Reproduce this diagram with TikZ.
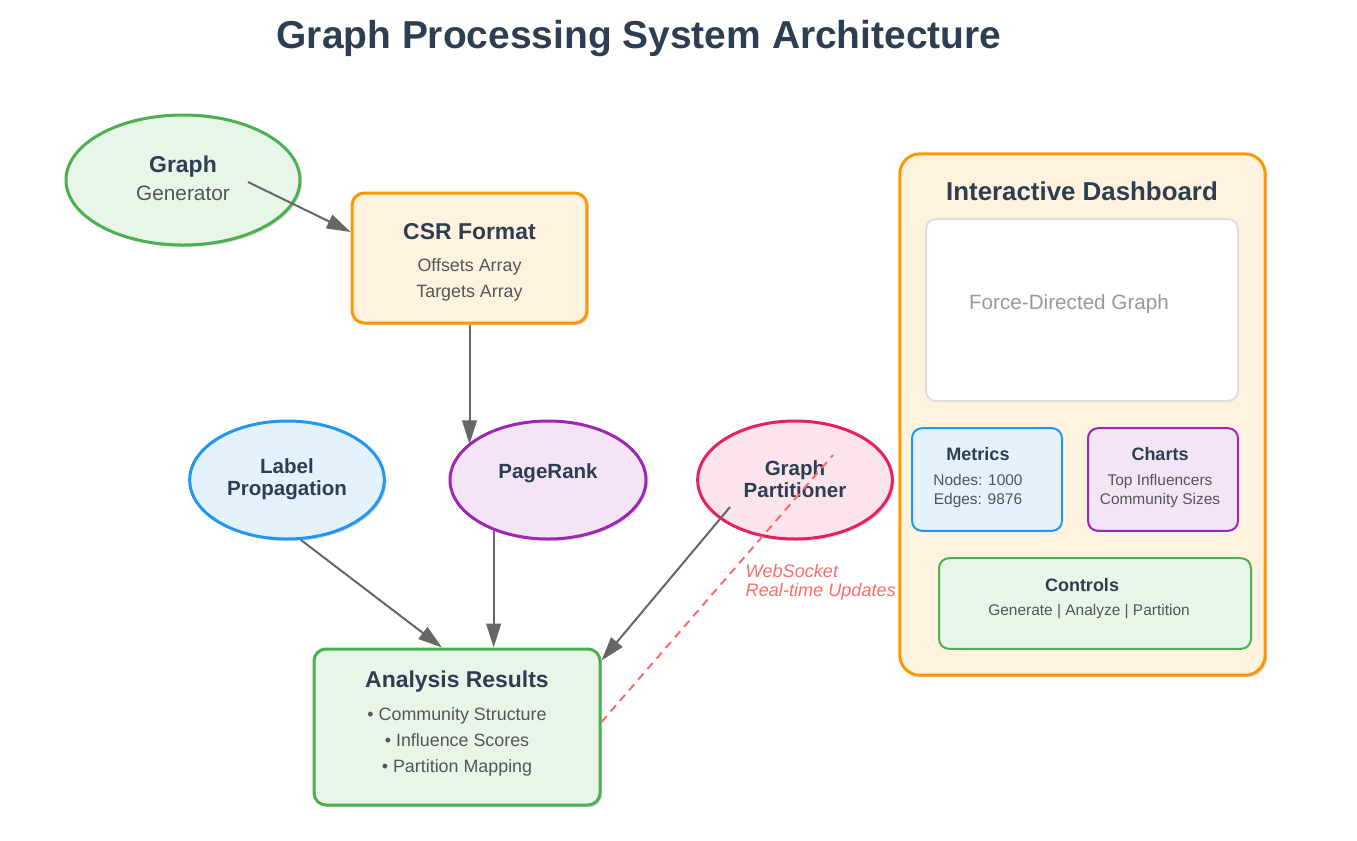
\documentclass[tikz,border=0pt]{standalone}
\usepackage{fontspec}
\setmainfont{Liberation Sans}
\usepackage{tikz}
\usetikzlibrary{shapes, arrows.meta, calc, shadows}

\definecolor{titlecol}{HTML}{2C3E50}
\definecolor{subgray}{HTML}{555555}
\definecolor{arrowgray}{HTML}{666666}
\definecolor{wsred}{HTML}{FF6B6B}
\definecolor{greenline}{HTML}{4CAF50}
\definecolor{greenfill}{HTML}{E8F5E9}
\definecolor{orangeline}{HTML}{FF9800}
\definecolor{orangefill}{HTML}{FFF3E0}
\definecolor{blueline}{HTML}{2196F3}
\definecolor{bluefill}{HTML}{E3F2FD}
\definecolor{purpleline}{HTML}{9C27B0}
\definecolor{purplefill}{HTML}{F3E5F5}
\definecolor{pinkline}{HTML}{E91E63}
\definecolor{pinkfill}{HTML}{FCE4EC}
\definecolor{paneline}{HTML}{DDDDDD}

\begin{document}
\begin{tikzpicture}[x=0.75pt, y=-0.75pt,
	softshadow/.style={drop shadow={shadow xshift=1.5pt, shadow yshift=-1.5pt, opacity=0.15, fill=black}},
	ell/.style={ellipse, draw, line width=2.25pt, inner sep=0pt, softshadow},
	box/.style={rectangle, draw, line width=2.25pt, rounded corners=9pt, inner sep=0pt, softshadow},
	panel/.style={rectangle, draw, line width=1.5pt, rounded corners=7.5pt, inner sep=0pt},
	flow/.style={draw=arrowgray, line width=1.5pt, -{Triangle[length=18pt, width=11pt]}},
	wsline/.style={draw=wsred, line width=1.5pt, dash pattern=on 6pt off 4.5pt},
	head/.style={text=titlecol, font=\fontsize{17.2pt}{20pt}\selectfont\bfseries},
	headsmall/.style={text=titlecol, font=\fontsize{15.4pt}{16.5pt}\selectfont\bfseries, align=center},
	subtext/.style={text=subgray, font=\fontsize{13.4pt}{15pt}\selectfont, text height=0.75em, text depth=0.22em},
	paneltitle/.style={text=titlecol, font=\fontsize{13.5pt}{15pt}\selectfont\bfseries},
	tinytext/.style={text=subgray, font=\fontsize{11.6pt}{14.25pt}\selectfont, align=center}]
		\useasboundingbox (0,0) rectangle (1357,840);
		% title
		\node[text=titlecol, font=\fontsize{29.2pt}{34pt}\selectfont\bfseries] (title) at (639,39) {Graph Processing System Architecture};
		% generator and csr
		\node[ell, draw=greenline, fill=greenfill, minimum width=175.5pt, minimum height=97.5pt] (gen) at (183,180) {};
		\node[head] (genT) at (183,167) {Graph};
		\node[text=subgray, font=\fontsize{15.6pt}{18pt}\selectfont] (genS) at (183,193) {Generator};
		\node[box, draw=orangeline, fill=orangefill, minimum width=176pt, minimum height=97.5pt] (csr) at (469.5,258) {};
		\node[head] (csrT) at (469.5,232) {CSR Format};
		\node[subtext] (csrA) at (469.5,268) {Offsets Array};
		\node[subtext] (csrB) at (469.5,294) {Targets Array};
		% algorithms
		\node[ell, draw=blueline, fill=bluefill, minimum width=146pt, minimum height=88.5pt] (lp) at (287,480) {};
		\node[headsmall] (lpT) at (287,479) {Label\\Propagation};
		\node[ell, draw=purpleline, fill=purplefill, minimum width=147pt, minimum height=88.5pt] (pr) at (548,480) {};
		\node[headsmall] (prT) at (548,473) {PageRank};
		\node[ell, draw=pinkline, fill=pinkfill, minimum width=146pt, minimum height=88.5pt] (gp) at (795,480) {};
		\node[headsmall] (gpT) at (795,479) {Graph\\Partitioner};
		% results
		\node[box, draw=greenline, fill=greenfill, minimum width=214.5pt, minimum height=117pt] (ar) at (457,727) {};
		\node[head] (arT) at (457,682) {Analysis Results};
		\node[subtext] (arA) at (457,717) {• Community Structure};
		\node[subtext] (arB) at (457,743) {• Influence Scores};
		\node[subtext] (arC) at (457,769) {• Partition Mapping};
		% dashboard
		\node[box, rounded corners=15pt, draw=orangeline, fill=orangefill, minimum width=274pt, minimum height=391pt] (dash) at (1082.5,414.5) {};
		\node[text=titlecol, font=\fontsize{19.4pt}{22pt}\selectfont\bfseries] (dashT) at (1082,191) {Interactive Dashboard};
		\node[panel, draw=paneline, fill=white, minimum width=234pt, minimum height=136.5pt] (force) at (1082,310) {};
		\node[text=black!40, font=\fontsize{15.5pt}{18pt}\selectfont] (forceT) at (1069,304) {Force-Directed Graph};
		\node[panel, draw=blueline, fill=bluefill, minimum width=112.5pt, minimum height=77pt] (met) at (987,479.5) {};
		\node[paneltitle] (metT) at (978,454) {Metrics};
		\node[tinytext] (metS) at (978,491) {Nodes: 1000\\Edges: 9876};
		\node[panel, draw=purpleline, fill=purplefill, minimum width=112.5pt, minimum height=77pt] (chart) at (1163,479.5) {};
		\node[paneltitle] (chartT) at (1160,454) {Charts};
		\node[tinytext] (chartS) at (1160,491) {Top Influencers\\Community Sizes};
		\node[panel, draw=greenline, fill=greenfill, minimum width=234pt, minimum height=68pt] (ctrl) at (1095,603.5) {};
		\node[paneltitle] (ctrlT) at (1082,585) {Controls};
		\node[tinytext] (ctrlS) at (1089,612) {Generate | Analyze | Partition};
		% connectors
		\draw[flow] ($(gen)+(65,2)$) -- ($(csr.west)+(0,-26)$);
		\draw[flow] (csr.south) -- (csr.south |- pr.156);
		\draw[flow] (lp.-77) -- ($(ar.north)+(-15,0)$);
		\draw[flow] (pr.223) -- (pr.223 |- ar.north);
		\draw[flow] ($(gp)+(-65,27)$) -- ($(ar.north east)+(0,13)$);
		\draw[wsline] ($(ar.east)+(0,-5)$) -- ($(gp)+(38,-25)$);
		\node[text=wsred, font=\fontsize{13.6pt}{14.25pt}\selectfont\itshape, anchor=west, align=left] (ws) at (741,582) {WebSocket\\Real-time Updates};
\end{tikzpicture}
\end{document}
